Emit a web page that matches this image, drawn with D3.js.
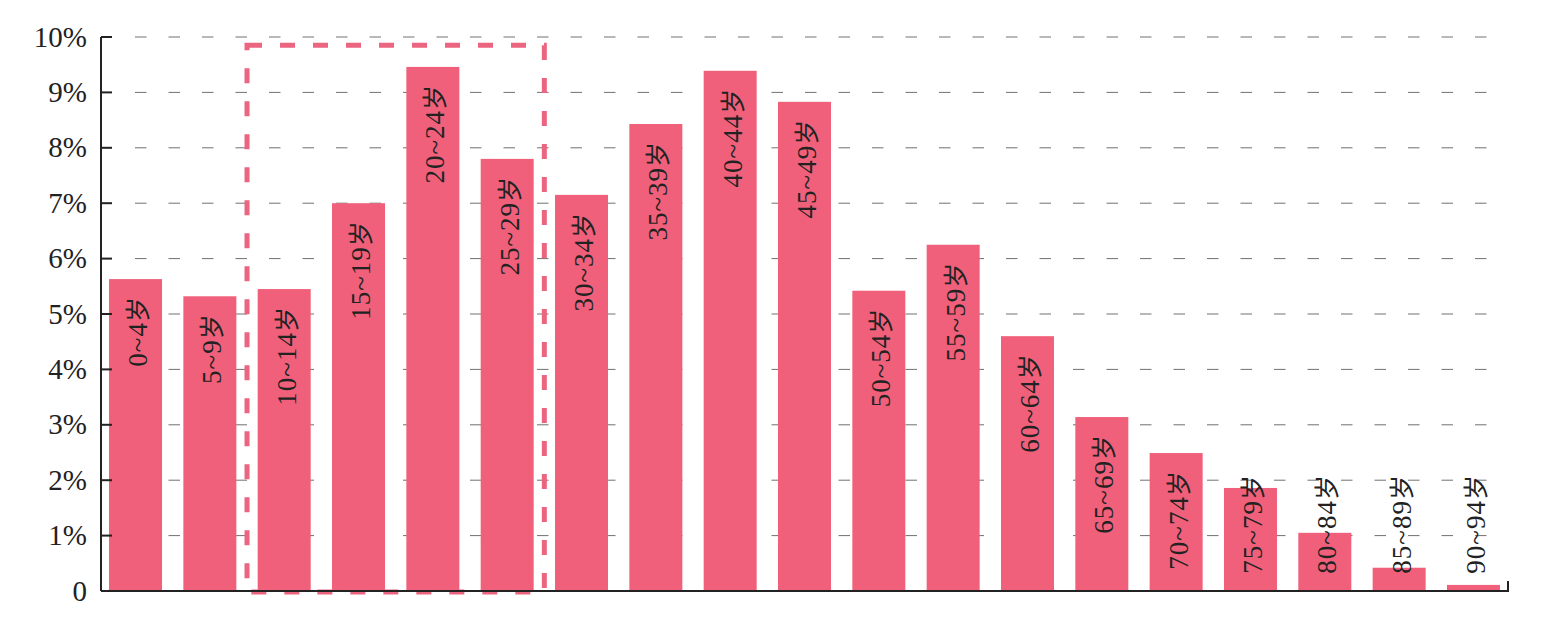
<!DOCTYPE html>
<html>
<head>
<meta charset="utf-8">
<script src="https://cdn.jsdelivr.net/npm/d3@7"></script>
<style>
  body { margin: 0; background: #fff; }
  svg { display: block; }
  text { font-family: "Liberation Serif", "Times New Roman", serif; }
  .cjk { font-family: "Noto Sans CJK SC", sans-serif; }
</style>
</head>
<body>
<svg width="1550" height="619"></svg>
<script>
// age groups and share of population (%)
var categories = ["0~4岁", "5~9岁", "10~14岁", "15~19岁", "20~24岁", "25~29岁", "30~34岁",
    "35~39岁", "40~44岁", "45~49岁", "50~54岁", "55~59岁", "60~64岁", "65~69岁",
    "70~74岁", "75~79岁", "80~84岁", "85~89岁", "90~94岁"];
var values = [5.63, 5.32, 5.45, 7.0, 9.46, 7.8, 7.15, 8.43, 9.39, 8.83, 5.42, 6.25, 4.6,
    3.14, 2.49, 1.86, 1.05, 0.42, 0.11];
var yTicks = [0, 1, 2, 3, 4, 5, 6, 7, 8, 9, 10];
var yTickLabels = ["0", "1%", "2%", "3%", "4%", "5%", "6%", "7%", "8%", "9%", "10%"];
// dashed box around 10~29
var boxFrom = "10~14岁", boxTo = "25~29岁", boxTop = 9.85;

var barColor = "#f0607a";

var svg = d3.select("svg");
var plotL = 101, plotR = 1508, plotT = 37, plotB = 591;

var x = d3.scaleBand()
    .domain(categories)
    .range([plotL, plotR])
    .paddingInner(0.287)
    .paddingOuter(0.108);

var y = d3.scaleLinear()
    .domain([0, 10])
    .range([plotB, plotT]);

// grid lines
svg.append("g").selectAll("line")
    .data(yTicks.filter(d => d > 0))
    .enter().append("line")
    .attr("x1", 135).attr("x2", 1497)
    .attr("y1", d => y(d)).attr("y2", d => y(d))
    .attr("stroke", "#707070")
    .attr("stroke-width", 1)
    .attr("stroke-dasharray", "11.5 22");

// bars
svg.append("g").selectAll("rect")
    .data(values)
    .enter().append("rect")
    .attr("x", (d, i) => x(categories[i]))
    .attr("y", d => y(d))
    .attr("width", x.bandwidth())
    .attr("height", d => y(0) - y(d))
    .attr("fill", barColor);

// highlight box
var gap = x.step() - x.bandwidth();
var bx0 = x(boxFrom) - gap / 2;
var bx1 = x(boxTo) + x.bandwidth() + gap / 2;
svg.append("rect")
    .attr("x", bx0)
    .attr("y", y(boxTop))
    .attr("width", bx1 - bx0)
    .attr("height", y(0) - y(boxTop) + 1)
    .attr("fill", "none")
    .attr("stroke", "#ec6580")
    .attr("stroke-width", 5)
    .attr("stroke-dasharray", "15 18");

// bar labels, vertical (digits in serif, 岁 in CJK font)
var labels = svg.append("g").selectAll("text")
    .data(values)
    .enter().append("text")
    .attr("transform", (d, i) => {
        var cx = x(categories[i]) + x.bandwidth() / 2 + 2;
        var ty = Math.min(y(d) + 17, 474);
        return "translate(" + cx + "," + ty + ") rotate(-90)";
    })
    .attr("text-anchor", "end")
    .attr("dy", "0.35em")
    .attr("font-size", 27)
    .attr("letter-spacing", 1)
    .attr("fill", "#222");
labels.append("tspan").text((d, i) => categories[i].slice(0, -1));
labels.append("tspan").attr("class", "cjk").attr("font-size", 25)
    .text((d, i) => categories[i].slice(-1));

// y axis
svg.append("line")
    .attr("x1", plotL).attr("x2", plotL)
    .attr("y1", plotT).attr("y2", plotB)
    .attr("stroke", "#222").attr("stroke-width", 2);
svg.append("g").selectAll("line")
    .data(yTicks.filter(d => d > 0))
    .enter().append("line")
    .attr("x1", plotL).attr("x2", plotL + 11)
    .attr("y1", d => y(d)).attr("y2", d => y(d))
    .attr("stroke", "#222").attr("stroke-width", 2);
svg.append("g").selectAll("text")
    .data(yTicks)
    .enter().append("text")
    .attr("x", 87)
    .attr("y", d => y(d))
    .attr("dy", "0.33em")
    .attr("text-anchor", "end")
    .attr("font-size", 29)
    .attr("fill", "#222")
    .text((d, i) => yTickLabels[i]);

// x axis
svg.append("line")
    .attr("x1", plotL).attr("x2", plotR + 1)
    .attr("y1", plotB).attr("y2", plotB)
    .attr("stroke", "#222").attr("stroke-width", 2);
svg.append("line")
    .attr("x1", plotR).attr("x2", plotR)
    .attr("y1", plotB).attr("y2", plotB - 10)
    .attr("stroke", "#222").attr("stroke-width", 2);
</script>
</body>
</html>
